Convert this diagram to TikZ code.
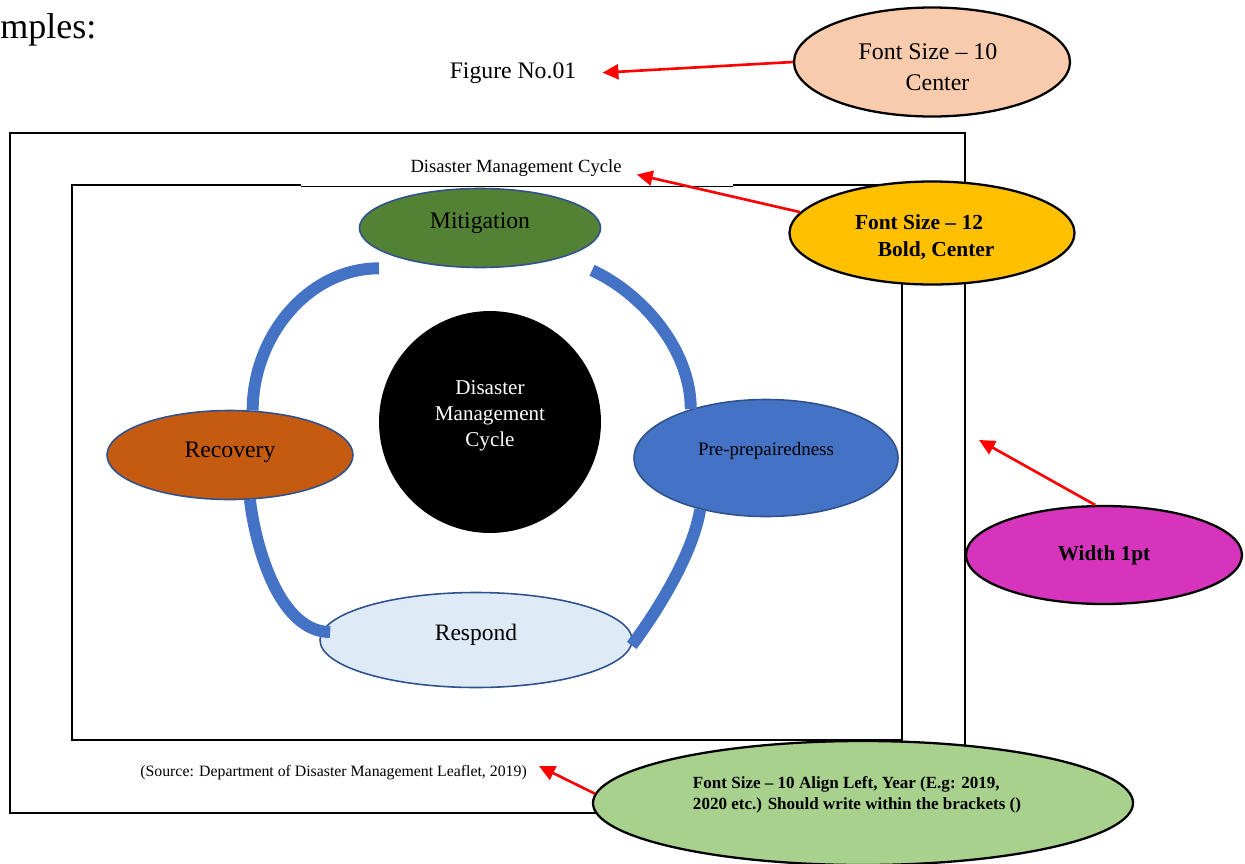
\documentclass[tikz,border=0pt]{standalone}
\usepackage{fontspec}
\setmainfont{Liberation Serif}
\usepackage{tikz}
\usetikzlibrary{shapes.geometric,arrows.meta}
\definecolor{mitgreen}{HTML}{548235}
\definecolor{recorange}{HTML}{C55A11}
\definecolor{preblue}{HTML}{4472C4}
\definecolor{respblue}{HTML}{DEEBF7}
\definecolor{edgeblue}{HTML}{2F528F}
\definecolor{peach}{HTML}{F8CBAD}
\definecolor{gold}{HTML}{FFC000}
\definecolor{pinkish}{HTML}{D634BC}
\definecolor{leafgreen}{HTML}{A9D18E}
\newcommand{\fsz}[2]{\fontsize{#1}{#2}\selectfont}

\begin{document}
\begin{tikzpicture}[x=0.02cm,y=-0.02cm,
  cyc/.style n args={3}{ellipse,draw=edgeblue,line width=0.9pt,fill=#1,minimum width=#2*0.02cm,minimum height=#3*0.02cm,inner sep=0pt,text height=8pt,text depth=8pt},
  tipell/.style n args={3}{ellipse,draw,line width=1.3pt,fill=#1,minimum width=#2*0.02cm,minimum height=#3*0.02cm,inner sep=0pt},
  frame/.style 2 args={rectangle,draw,line width=1.2pt,minimum width=#1*0.02cm,minimum height=#2*0.02cm,inner sep=0pt},
  ring/.style={draw=preblue,line width=6.8pt},
  redarr/.style={draw=red,line width=1.5pt,-{Triangle[length=9pt,width=8.5pt]}},
  txt/.style={inner sep=0pt,anchor=base},
  blk/.style={inner sep=0pt,align=center}]
\useasboundingbox (0,0) rectangle (1245,863);
\node[txt,anchor=base west,font=\fsz{20.5}{24}] (ex) at (0,38) {mples:};
\node[txt,font=\fsz{13.5}{16}] (figno) at (513,78) {Figure No.01};

\node[frame={955}{680}] (outer) at (487.5,473) {};
\node[frame={830}{555}] (inner) at (487,462.5) {};
\fill[white] (301,150) rectangle (733,187);
\draw[line width=0.5pt] (301,186) -- (733,186);
\node[txt,font=\fsz{10.6}{12}] (title) at (516,172) {Disaster Management Cycle};

\node[cyc={mitgreen}{241}{79},font=\fsz{13.5}{16}] (mit) at (480,228) {Mitigation};
\node[cyc={recorange}{246}{89},font=\fsz{13.5}{16},text height=9.7pt,text depth=6.3pt] (rec) at (230,455) {Recovery};
\node[cyc={preblue}{264}{117},font=\fsz{10.8}{13},text height=7pt,text depth=9.3pt] (pre) at (766,458) {Pre-prepairedness};
\node[cyc={respblue}{312}{95},font=\fsz{13.4}{16}] (resp) at (476,640) {Respond};
\node[circle,fill=black,minimum size=4.44cm] (core) at (490,422) {};
\node[blk,text=white,font=\fsz{12}{14.7}] (coretxt) at (490,415.5) {Disaster\\Management\\Cycle};

\draw[ring] ([shift={(-101,0)}]mit.south) .. controls +(-70,0) and +(0,-75) .. (rec.63);
\draw[ring] ([shift={(112,2)}]mit.south) .. controls +(50,23) and +(0,-60) .. (pre.147);
\draw[ring] (pre.218) .. controls +(-6,38) and +(34,-46) .. (resp.358);
\draw[ring] (rec.294) .. controls +(6,50) and +(-50,0) .. ([shift={(11,-8)}]resp.west);

\node[tipell={peach}{276}{109}] (sz10) at (932,62) {};
\node[blk,font=\fsz{13.6}{17.6}] (sz10txt) at (928,67) {Font Size – 10\\\hspace*{0.8em}Center};
\node[tipell={gold}{285}{103}] (sz12) at (932,233) {};
\node[blk,font=\bfseries\fsz{12.2}{15.3}] (sz12txt) at (919,237) {Font Size – 12\\\hspace*{1.6em}Bold, Center};
\node[tipell={pinkish}{276}{98},font=\bfseries\fsz{12.1}{14}] (wid) at (1104,555) {Width 1pt};
\node[tipell={leafgreen}{540}{124}] (srcnote) at (863,803) {};
\node[blk,align=left,font=\bfseries\fsz{9.7}{11.9}] (srcnotetxt) at (857,795) {Font Size – 10 Align Left, Year (E.g: 2019,\\2020 etc.) Should write within the brackets ()};
\node[txt,anchor=base west,font=\fsz{9}{11}] (src) at (140,776) {(Source: Department of Disaster Management Leaflet, 2019)};

\draw[redarr] (sz10.west) -- ([shift={(26,0)}]figno.east);
\draw[redarr] (sz12.171) -- ([shift={(15,7)}]title.east);
\draw[redarr] (wid.100) -- ([shift={(13,-33)}]outer.east);
\draw[redarr] (srcnote.178) -- ([shift={(12,-6)}]src.east);
\end{tikzpicture}
\end{document}
